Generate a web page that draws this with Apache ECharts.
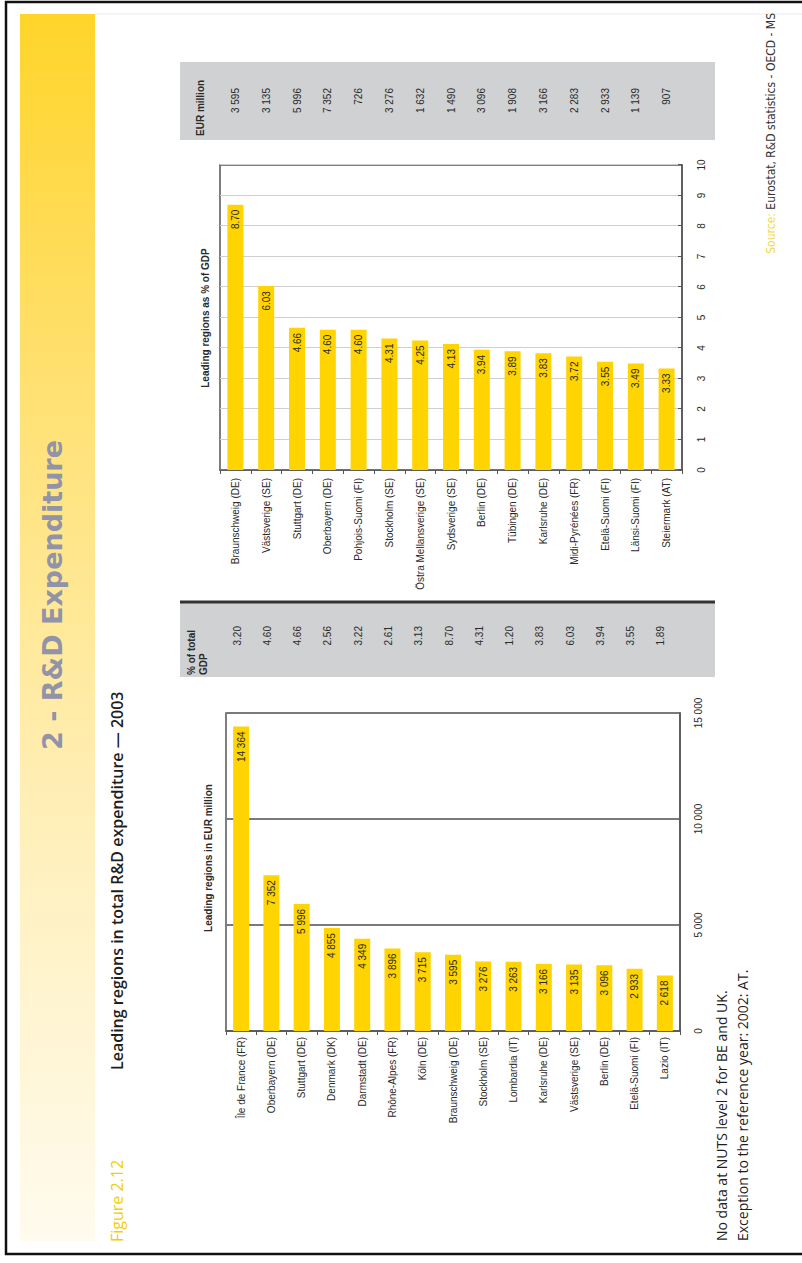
<!DOCTYPE html>
<html>
<head>
<meta charset="utf-8">
<script src="https://cdn.jsdelivr.net/npm/echarts@6/dist/echarts.min.js"></script>
<style>
  html, body { margin: 0; padding: 0; background: #fff; overflow: hidden; }
  body { width: 802px; height: 1263px; position: relative; }
  /* the page is laid out in landscape and turned a quarter turn counter-clockwise */
  #page {
    position: absolute; left: 0; top: 0;
    width: 1263px; height: 802px;
    transform-origin: 0 0;
    transform: translate(0px, 1263px) rotate(-90deg);
  }
</style>
</head>
<body>
<div id="page"></div>
<script>
// Leading regions as % of GDP
const gdpRegions = ['Braunschweig (DE)', 'Västsverige (SE)', 'Stuttgart (DE)', 'Oberbayern (DE)',
  'Pohjois-Suomi (FI)', 'Stockholm (SE)', 'Östra Mellansverige (SE)', 'Sydsverige (SE)', 'Berlin (DE)',
  'Tübingen (DE)', 'Karlsruhe (DE)', 'Midi-Pyrénées (FR)', 'Etelä-Suomi (FI)', 'Länsi-Suomi (FI)', 'Steiermark (AT)'];
const gdpShare = [8.70, 6.03, 4.66, 4.60, 4.60, 4.31, 4.25, 4.13, 3.94, 3.89, 3.83, 3.72, 3.55, 3.49, 3.33];
const gdpRegionsEur = [3595, 3135, 5996, 7352, 726, 3276, 1632, 1490, 3096, 1908, 3166, 2283, 2933, 1139, 907];

// Leading regions in EUR million
const eurRegions = ['Île de France (FR)', 'Oberbayern (DE)', 'Stuttgart (DE)', 'Denmark (DK)', 'Darmstadt (DE)',
  'Rhône-Alpes (FR)', 'Köln (DE)', 'Braunschweig (DE)', 'Stockholm (SE)', 'Lombardia (IT)', 'Karlsruhe (DE)',
  'Västsverige (SE)', 'Berlin (DE)', 'Etelä-Suomi (FI)', 'Lazio (IT)'];
const eurSpend = [14364, 7352, 5996, 4855, 4349, 3896, 3715, 3595, 3276, 3263, 3166, 3135, 3096, 2933, 2618];
const eurRegionsGdp = [3.20, 4.60, 4.66, 2.56, 3.22, 2.61, 3.13, 8.70, 4.31, 1.20, 3.83, 6.03, 3.94, 3.55, 1.89];

// axis ticks
const gdpTicks = { min: 0, max: 10, interval: 1 };
const eurTicks = { min: 0, max: 15000, interval: 5000 };

const thousands = n => String(n).replace(/\B(?=(\d{3})+(?!\d))/g, ' ');
const pct = n => n.toFixed(2);

const FONT = '"Liberation Sans", Arial, sans-serif';
const BAR = '#FFD400';
const INK = '#2a2a2a';

const chart = echarts.init(document.getElementById('page'), null, { renderer: 'svg', width: 1263, height: 802 });

const catAxis = (grid, data, margin) => ({
  gridIndex: grid, type: 'category', data: data, inverse: true,
  axisLine: { show: true, lineStyle: { color: '#555', width: 1.5 } },
  axisTick: { show: true, length: 4, lineStyle: { color: '#555' } },
  axisLabel: { color: INK, fontSize: 10, fontFamily: FONT, margin: margin },
  splitLine: { show: false }
});

chart.setOption({
  animation: false,
  textStyle: { fontFamily: FONT },
  grid: [
    { left: 793, top: 220, width: 305, height: 462, show: true, borderColor: '#555', borderWidth: 1.5, backgroundColor: 'transparent' },
    { left: 232, top: 226, width: 318, height: 454, show: true, borderColor: '#555', borderWidth: 1.5, backgroundColor: 'transparent' }
  ],
  xAxis: [
    {
      gridIndex: 0, type: 'value', min: gdpTicks.min, max: gdpTicks.max, interval: gdpTicks.interval,
      axisLine: { show: true, lineStyle: { color: '#555', width: 1.5 } },
      axisTick: { show: true, inside: true, length: 4, lineStyle: { color: '#555' } },
      axisLabel: { color: INK, fontSize: 10, margin: 14 },
      splitLine: { show: true, lineStyle: { color: '#cfcfcf', width: 1 } }
    },
    {
      gridIndex: 1, type: 'value', min: eurTicks.min, max: eurTicks.max, interval: eurTicks.interval,
      axisLine: { show: true, lineStyle: { color: '#555', width: 1.5 } },
      axisTick: { show: false },
      axisLabel: { color: INK, fontSize: 10, margin: 13, formatter: v => thousands(v) },
      splitLine: { show: true, lineStyle: { color: '#7a7a7a', width: 2 } }
    }
  ],
  yAxis: [catAxis(0, gdpRegions, 8), catAxis(1, eurRegions, 6)],
  series: [
    {
      type: 'bar', xAxisIndex: 0, yAxisIndex: 0, data: gdpShare, barWidth: 16,
      itemStyle: { color: BAR },
      label: { show: true, position: 'insideRight', distance: 5, color: INK, fontSize: 10, formatter: p => pct(p.value) }
    },
    {
      type: 'bar', xAxisIndex: 1, yAxisIndex: 1, data: eurSpend, barWidth: 16,
      itemStyle: { color: BAR },
      label: { show: true, position: 'insideRight', distance: 5, color: INK, fontSize: 10, formatter: p => thousands(p.value) }
    }
  ]
});

// page furniture, side tables and captions
const txt = (x, y, text, font, fill, align, vAlign) => ({
  type: 'text', x: x, y: y, silent: true,
  style: { text: text, font: font, fill: fill, align: align || 'left', verticalAlign: vAlign || 'middle' }
});

const g = [];
// outer frame
g.push({ type: 'rect', shape: { x: 9, y: 6, width: 1252, height: 830 }, silent: true,
  style: { fill: 'none', stroke: '#111', lineWidth: 2.5 } });
// chapter band
g.push({ type: 'rect', shape: { x: 22, y: 20, width: 1227, height: 75 }, silent: true,
  style: { fill: new echarts.graphic.LinearGradient(0, 0, 1, 0, [
    { offset: 0, color: '#FFFBEE' }, { offset: 0.35, color: '#FFEFB8' },
    { offset: 0.7, color: '#FFE071' }, { offset: 1, color: '#FFD52A' }]) } });
g.push({ type: 'line', shape: { x1: 1249, y1: 95, x2: 1249, y2: 802 }, silent: true,
  style: { stroke: '#ececec', lineWidth: 1 } });
g.push(txt(668, 52, '2 - R&D Expenditure', 'bold 27px "DejaVu Sans", sans-serif', '#9193A8', 'center'));
g.push(txt(21, 117, 'Figure 2.12', '16px "Open Sans", sans-serif', '#F2CF00'));
g.push(txt(193, 117, 'Leading regions in total R&D expenditure — 2003', '600 16px "Open Sans", sans-serif', '#1e1e1e'));

// chart captions
g.push(txt(945, 205, 'Leading regions as % of GDP', 'bold 10px ' + FONT, INK, 'center'));
g.push(txt(405, 208, 'Leading regions in EUR million', 'bold 10px ' + FONT, INK, 'center'));

// side table: EUR million for the % of GDP ranking
g.push({ type: 'rect', shape: { x: 1123, y: 180, width: 78, height: 535 }, silent: true, style: { fill: '#CFD1D3' } });
g.push(txt(1127, 200, 'EUR million', 'bold 10px ' + FONT, INK));
gdpRegions.forEach((r, i) => {
  const v = chart.convertToPixel({ yAxisIndex: 0 }, i);
  g.push(txt(1175, v, thousands(gdpRegionsEur[i]), '10px ' + FONT, INK, 'right'));
});

// side table: % of total GDP for the EUR million ranking
g.push({ type: 'rect', shape: { x: 586, y: 180, width: 75, height: 535 }, silent: true, style: { fill: '#CFD1D3' } });
g.push({ type: 'line', shape: { x1: 661, y1: 180, x2: 661, y2: 715 }, silent: true, style: { stroke: '#333', lineWidth: 3 } });
g.push(txt(588, 191, '% of total', 'bold 10px ' + FONT, INK));
g.push(txt(588, 203, 'GDP', 'bold 10px ' + FONT, INK));
eurRegions.forEach((r, i) => {
  const v = chart.convertToPixel({ yAxisIndex: 1 }, i) - 4;
  g.push(txt(637, v, pct(eurRegionsGdp[i]), '10px ' + FONT, INK, 'right'));
});

// notes and source
g.push(txt(22, 721, 'No data at NUTS level 2 for BE and UK.', '14px "Open Sans", sans-serif', '#1e1e1e'));
g.push(txt(22, 742, 'Exception to the reference year: 2002: AT.', '14px "Open Sans", sans-serif', '#1e1e1e'));
g.push({
  type: 'text', x: 1250, y: 771, silent: true,
  style: {
    text: '{a|Source:} {b|Eurostat, R&D statistics - OECD - MS}',
    align: 'right', verticalAlign: 'middle',
    font: '12px "Liberation Sans Narrow", "DejaVu Sans Condensed", sans-serif',
    rich: {
      a: { fill: '#F5D64A', font: '12px "Liberation Sans Narrow", "DejaVu Sans Condensed", sans-serif' },
      b: { fill: '#333', font: '12px "Liberation Sans Narrow", "DejaVu Sans Condensed", sans-serif' }
    }
  }
});

chart.setOption({ graphic: g });
</script>
</body>
</html>
